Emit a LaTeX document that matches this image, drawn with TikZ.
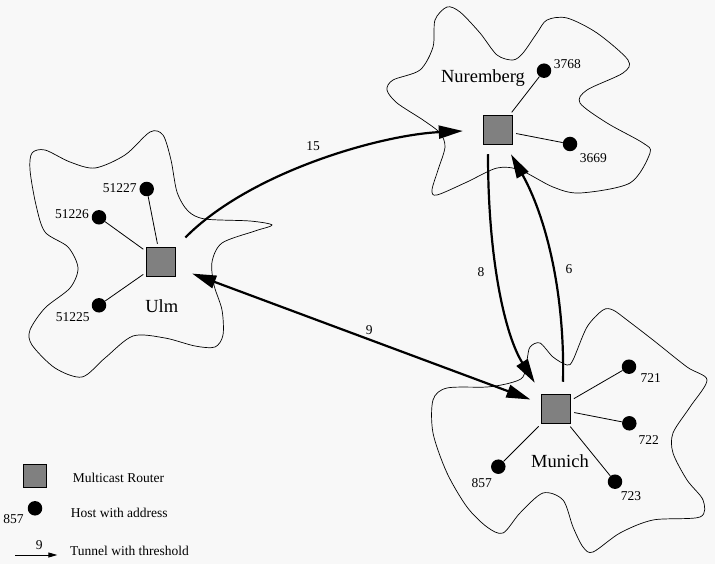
\documentclass[tikz,border=0pt]{standalone}
\usepackage{fontspec}
\setmainfont{Liberation Serif}
\usetikzlibrary{arrows.meta,calc}
\definecolor{bg}{RGB}{248,248,248}
\definecolor{routergray}{RGB}{128,128,128}
\begin{document}
\begin{tikzpicture}[x=1pt,y=-1pt,
  router/.style={draw=black, line width=1.5pt, fill=routergray, minimum size=29pt, inner sep=0pt},
  smallrouter/.style={router, minimum size=23pt},
  host/.style={circle, fill=black, minimum size=14.5pt, inner sep=0pt},
  hostlbl/.style={font=\fontsize{13.5}{15}\selectfont, inner sep=0pt},
  citylbl/.style={font=\fontsize{18.5}{21}\selectfont, inner sep=0pt},
  legendlbl/.style={font=\fontsize{13.5}{15}\selectfont, inner sep=0pt, anchor=west},
  cloud/.style={draw=black, line width=0.7pt},
  link/.style={line width=0.8pt, shorten >=3pt},
  tunnel/.style={line width=2.2pt, -{Triangle[length=24pt,width=13pt]}},
  bitunnel/.style={line width=2.2pt, {Triangle[length=24pt,width=13pt]}-{Triangle[length=24pt,width=13pt]}},
  tunnellbl/.style={font=\fontsize{13.5}{15}\selectfont, inner sep=0pt},
]
\useasboundingbox (0,0) rectangle (715,564);
\fill[bg] (0,0) rectangle (715,564);

% clouds
\draw[cloud] plot[smooth cycle] coordinates {
 (32,153) (45,150) (70,162) (95,168) (125,155) (150,132) (163,135) (171,160)
 (177,192) (188,211) (205,219) (250,221) (272,225) (255,231) (222,243)
 (212,262) (214,285) (222,310) (223,335) (215,347) (195,346) (165,338)
 (133,336) (105,358) (82,377) (55,368) (32,345) (30,330) (45,308) (70,288)
 (78,268) (68,247) (45,232) (36,205) (30,170)};
\draw[cloud] plot[smooth cycle] coordinates {
 (447,7) (460,12) (480,33) (497,55) (513,60) (523,53) (537,33) (547,20)
 (567,18) (597,33) (628,60) (623,73) (587,90) (580,103) (607,123) (643,143)
 (650,153) (630,183) (580,193) (553,187) (520,170) (497,168) (467,182)
 (437,195) (432,190) (438,170) (445,147) (440,133) (423,120) (397,103)
 (387,90) (393,80) (420,70) (433,47) (435,20)};
\draw[cloud] plot[smooth cycle] coordinates {
 (603,310) (587,327) (573,360) (567,365) (553,357) (540,343) (530,347)
 (527,360) (523,377) (510,383) (487,387) (447,388) (433,400) (433,433)
 (447,473) (467,507) (487,527) (503,533) (520,513) (543,493) (563,500)
 (573,527) (583,547) (593,552) (620,533) (653,520) (700,517) (703,500)
 (687,480) (673,453) (673,433) (690,407) (707,380) (687,367) (653,340)
 (627,320) (613,310)};

% routers
\node[router] (ulm) at (161,262) {};
\node[router] (nur) at (498,130) {};
\node[router] (mun) at (556,409) {};

% city labels
\node[citylbl] (lulm) at (161.7,306) {Ulm};
\node[citylbl] (lnur) at (483,78.5) {Nuremberg};
\node[citylbl] (lmun) at (560,460.7) {Munich};

% hosts Ulm
\node[host] (h51227) at (146.7,189) {};
\node[host] (h51226) at (99,217.3) {};
\node[host] (h51225) at (99,305.3) {};
\node[hostlbl] (l51227) at (119.7,188.3) {51227};
\node[hostlbl] (l51226) at (72,213.7) {51226};
\node[hostlbl] (l51225) at (72.7,317.3) {51225};
\draw[link] (h51227) -- (ulm);
\draw[link] (h51226) -- (ulm);
\draw[link] (h51225) -- (ulm);

% hosts Nuremberg
\node[host] (h3768) at (544,70.7) {};
\node[host] (h3669) at (570,144) {};
\node[hostlbl] (l3768) at (567.3,64.3) {3768};
\node[hostlbl] (l3669) at (593.3,158.3) {3669};
\draw[link] (h3768) -- (nur);
\draw[link] (h3669) -- (nur);

% hosts Munich
\node[host] (h721) at (629,366.7) {};
\node[host] (h722) at (629.3,423.3) {};
\node[host] (h723) at (615,481.7) {};
\node[host] (h857) at (498.3,466.7) {};
\node[hostlbl] (l721) at (650.7,378.3) {721};
\node[hostlbl] (l722) at (648.7,440) {722};
\node[hostlbl] (l723) at (631,496) {723};
\node[hostlbl] (l857) at (481.7,483.3) {857};
\draw[link] (h721) -- (mun);
\draw[link] (h722) -- (mun);
\draw[link] (h723) -- (mun);
\draw[link] (h857) -- (mun);

% tunnels
\draw[tunnel, shorten <=13pt, shorten >=20pt] (ulm.north east) .. controls (250,172) and (380,135) .. (nur.west);
\node[tunnellbl] (t15) at (313,146) {15};
\draw[bitunnel, shorten <=17pt, shorten >=11pt] (ulm) -- (mun);
\node[tunnellbl] (t9) at (369.3,330) {9};
\draw[tunnel] ($(nur.south)+(-10,9)$) .. controls (488,260) and (505,335) .. ($(mun.north west)+(-6,-11)$);
\node[tunnellbl] (t8) at (481,271.7) {8};
\draw[tunnel] ($(mun.north)+(7,-12)$) .. controls (565,290) and (545,215) .. ($(nur.south)+(13,9)$);
\node[tunnellbl] (t6) at (569,269.5) {6};

% legend
\node[smallrouter] (legrouter) at (35,476) {};
\node[legendlbl] (legrouterl) at (72.7,477.5) {Multicast Router};
\node[host] (leghost) at (35,508.3) {};
\node[hostlbl] (leghostn) at (13.5,519) {857};
\node[legendlbl] (leghostl) at (70.7,512.5) {Host with address};
\coordinate (legA) at (15,555);
\coordinate (legB) at (57.3,555);
\draw[line width=0.9pt, -{Triangle[length=9pt,width=5pt]}] (legA) -- (legB);
\node[tunnellbl] (legnine) at (39.3,545) {9};
\node[legendlbl] (legtunl) at (70,550.7) {Tunnel with threshold};
\end{tikzpicture}
\end{document}
